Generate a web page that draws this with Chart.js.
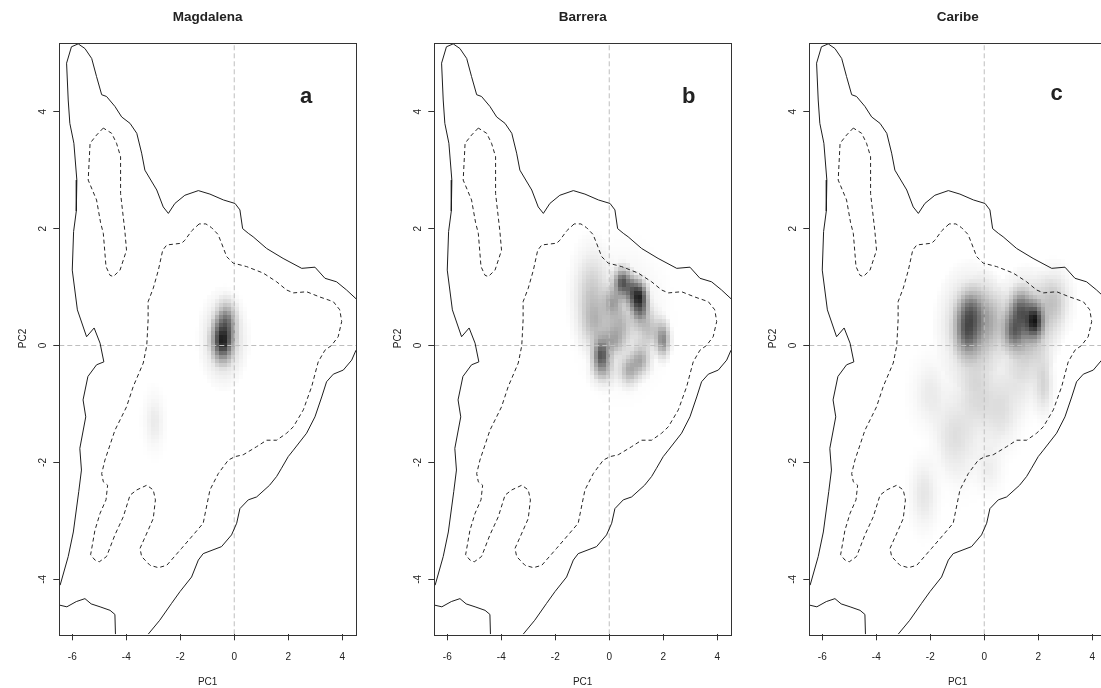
<!DOCTYPE html>
<html>
<head>
<meta charset="utf-8">
<script src="https://cdn.jsdelivr.net/npm/chart.js@4.4.1/dist/chart.umd.min.js"></script>
<style>
  html, body { margin: 0; padding: 0; background: #fff; overflow: hidden; }
  #wrap { position: relative; width: 1101px; height: 688px; overflow: hidden; }
  #wrap canvas { position: absolute; top: 0; }
</style>
</head>
<body>
<div id="wrap">
  <canvas id="magdalena" width="375" height="688" style="left:0px"></canvas>
  <canvas id="barrera" width="375" height="688" style="left:375px"></canvas>
  <canvas id="caribe" width="375" height="688" style="left:750px"></canvas>
</div>
<script>
// environmental space panels (PCA): background contours + occurrence density

const xRange = [-6.48, 4.51];
const yRange = [-4.94, 5.18];
const xTicks = [-6, -4, -2, 0, 2, 4];
const yTicks = [-4, -2, 0, 2, 4];
const panelTitles = ['Magdalena', 'Barrera', 'Caribe'];
const panelLetters = ['a', 'b', 'c'];

// solid contour (100% of background), split where it leaves the plot box
const outerUpper = [
  [4.51, 0.8], [4.16, 0.95], [3.79, 1.09], [3.36, 1.15], [2.99, 1.34], [2.5, 1.32],
  [1.81, 1.49], [1.2, 1.66], [0.7, 1.86], [0.52, 1.92], [0.31, 2.0], [0.21, 2.32],
  [0.03, 2.43], [-0.4, 2.49], [-0.9, 2.59], [-1.33, 2.65], [-1.83, 2.57], [-2.2, 2.43],
  [-2.44, 2.26], [-2.63, 2.37], [-2.87, 2.66], [-3.31, 3.0], [-3.43, 3.29], [-3.61, 3.63],
  [-3.86, 3.8], [-4.17, 3.91], [-4.42, 4.09], [-4.73, 4.26], [-4.91, 4.29], [-5.1, 4.6],
  [-5.28, 4.91], [-5.53, 5.08], [-5.78, 5.16], [-6.03, 5.11], [-6.21, 4.83], [-6.15, 4.2],
  [-6.09, 3.8], [-5.94, 3.46], [-5.83, 2.83], [-5.85, 2.3], [-5.95, 1.95], [-6.0, 1.29],
  [-5.81, 0.61], [-5.47, 0.15], [-5.19, 0.3], [-4.97, 0.04], [-4.83, -0.28], [-5.1, -0.33],
  [-5.42, -0.53], [-5.6, -0.93], [-5.5, -1.22], [-5.72, -1.76], [-5.66, -2.13], [-5.76, -2.5],
  [-5.96, -3.19], [-6.15, -3.61], [-6.45, -4.1]
];
const outerLower = [
  [4.51, -0.08], [4.35, -0.25], [4.04, -0.42], [3.67, -0.49], [3.42, -0.62], [3.24, -0.88],
  [2.99, -1.22], [2.68, -1.5], [2.19, -1.79], [2.0, -1.9], [1.75, -2.1], [1.57, -2.24],
  [1.31, -2.39], [0.83, -2.59], [0.52, -2.64], [0.21, -2.79], [0.09, -3.04], [-0.1, -3.24],
  [-0.47, -3.44], [-1.15, -3.56], [-1.33, -3.67], [-1.58, -3.96], [-2.01, -4.21], [-2.32, -4.41],
  [-2.76, -4.7], [-3.19, -4.94]
];
const outerCorner = [
  [-6.48, -4.44], [-6.2, -4.47], [-5.85, -4.38], [-5.53, -4.33], [-5.3, -4.42], [-4.97, -4.47],
  [-4.6, -4.53], [-4.42, -4.6], [-4.4, -4.94]
];

// dashed contours (inner level)
const innerLoop = [
  [-4.85, 3.72], [-5.1, 3.6], [-5.34, 3.46], [-5.41, 2.83], [-5.1, 2.49], [-4.95, 2.1],
  [-4.85, 1.92], [-4.75, 1.35], [-4.6, 1.2], [-4.48, 1.18], [-4.23, 1.29], [-3.99, 1.63],
  [-4.05, 1.95], [-4.21, 2.6], [-4.21, 3.23], [-4.36, 3.46], [-4.54, 3.63], [-4.85, 3.72]
];
const innerMain = [
  [-1.3, 2.08], [-1.58, 1.96], [-1.83, 1.8], [-1.95, 1.75], [-2.5, 1.72], [-2.65, 1.63],
  [-2.81, 1.29], [-3.0, 0.98], [-3.19, 0.75], [-3.19, 0.44], [-3.24, 0.0], [-3.37, -0.3],
  [-3.74, -0.7], [-3.99, -1.05], [-4.42, -1.45], [-4.79, -1.96], [-4.91, -2.19], [-4.85, -2.33],
  [-4.69, -2.39], [-4.75, -2.64], [-4.97, -2.87], [-5.16, -3.16], [-5.32, -3.58], [-5.16, -3.67],
  [-5.0, -3.7], [-4.73, -3.61], [-4.42, -3.24], [-4.11, -2.93], [-3.86, -2.56], [-3.61, -2.47],
  [-3.24, -2.39], [-3.0, -2.47], [-2.92, -2.64], [-3.0, -2.96], [-3.19, -3.16], [-3.49, -3.47],
  [-3.43, -3.61], [-3.12, -3.76], [-2.81, -3.8], [-2.5, -3.76], [-1.95, -3.47], [-1.52, -3.24],
  [-1.15, -3.04], [-1.05, -2.81], [-0.9, -2.47], [-0.59, -2.19], [-0.22, -1.96], [0.03, -1.9],
  [0.33, -1.87], [0.83, -1.73], [1.2, -1.62], [1.57, -1.62], [1.94, -1.5], [2.19, -1.39],
  [2.56, -1.1], [2.87, -0.7], [3.11, -0.28], [3.36, -0.08], [3.6, 0.0], [3.85, 0.15],
  [3.98, 0.41], [3.91, 0.61], [3.67, 0.75], [3.17, 0.83], [2.68, 0.92], [2.19, 0.9],
  [1.94, 0.95], [1.57, 1.09], [1.07, 1.24], [0.46, 1.35], [-0.04, 1.41], [-0.28, 1.52],
  [-0.47, 1.75], [-0.6, 1.9], [-0.85, 2.02], [-1.05, 2.08], [-1.3, 2.08]
];

// occurrence density kernels: [pc1, pc2, spread1, spread2, darkness]
const magdalenaDensity = [
  [-0.42, 0.1, 0.22, 0.2, 0.85],
  [-0.28, 0.42, 0.22, 0.2, 0.4],
  [-0.38, 0.12, 0.4, 0.36, 0.3],
  [-2.95, -1.3, 0.22, 0.28, 0.08]
];
const barreraDensity = [
  [1.1, 0.83, 0.2, 0.16, 0.85],
  [0.5, 1.08, 0.2, 0.15, 0.65],
  [0.85, 0.95, 0.2, 0.15, 0.45],
  [1.16, 0.61, 0.2, 0.16, 0.4],
  [0.15, 0.75, 0.22, 0.16, 0.3],
  [-0.65, 0.85, 0.38, 0.45, 0.2],
  [-0.5, 0.38, 0.3, 0.25, 0.18],
  [0.42, 0.38, 0.3, 0.2, 0.2],
  [2.0, 0.1, 0.16, 0.18, 0.45],
  [1.5, 0.27, 0.3, 0.2, 0.22],
  [-0.28, -0.16, 0.2, 0.18, 0.65],
  [0.17, 0.09, 0.25, 0.16, 0.28],
  [1.16, -0.25, 0.22, 0.16, 0.32],
  [0.75, -0.42, 0.22, 0.16, 0.3],
  [-0.2, -0.42, 0.28, 0.16, 0.2],
  [0.5, 0.45, 0.8, 0.6, 0.1]
];
const caribeDensity = [
  [1.85, 0.43, 0.2, 0.17, 0.9],
  [1.36, 0.6, 0.24, 0.2, 0.5],
  [1.11, 0.26, 0.24, 0.2, 0.5],
  [1.6, 0.38, 0.55, 0.4, 0.4],
  [-0.61, 0.26, 0.26, 0.25, 0.5],
  [-0.49, 0.56, 0.26, 0.22, 0.4],
  [-0.5, 0.35, 0.55, 0.45, 0.32],
  [0.12, 0.43, 0.4, 0.35, 0.25],
  [2.6, 0.77, 0.35, 0.3, 0.2],
  [2.22, -0.66, 0.2, 0.3, 0.15],
  [-0.24, -0.83, 0.5, 0.45, 0.15],
  [1.36, -0.54, 0.5, 0.35, 0.1],
  [-1.97, -0.83, 0.4, 0.35, 0.08],
  [0.68, -1.17, 0.4, 0.35, 0.1],
  [-1.2, -1.5, 0.4, 0.35, 0.08],
  [-2.22, -2.54, 0.3, 0.35, 0.1],
  [0.19, -2.08, 0.3, 0.25, 0.07],
  [-0.9, -1.8, 0.45, 0.4, 0.06]
];

const FONT = '"Liberation Sans", Arial, sans-serif';
const CELL = 4; // size of the density raster cells, like R's image()

function drawBlob(ctx, xs, ys, b) {
  const cx = xs.getPixelForValue(b[0]);
  const cy = ys.getPixelForValue(b[1]);
  const rx = Math.abs(xs.getPixelForValue(b[0] + b[2]) - cx) * 2.6;
  const ry = Math.abs(ys.getPixelForValue(b[1] + b[3]) - cy) * 2.6;
  ctx.save();
  ctx.translate(cx, cy);
  ctx.scale(rx, ry);
  const g = ctx.createRadialGradient(0, 0, 0, 0, 0, 1);
  for (let i = 0; i <= 12; i++) {
    const r = i / 12;
    const a = b[4] * Math.exp(-Math.pow(r * 2.6, 2) / 2);
    g.addColorStop(r, 'rgba(0,0,0,' + (i === 12 ? 0 : a).toFixed(4) + ')');
  }
  ctx.fillStyle = g;
  ctx.beginPath();
  ctx.arc(0, 0, 1, 0, Math.PI * 2);
  ctx.fill();
  ctx.restore();
}

const densityPlugin = {
  id: 'density',
  beforeDatasetsDraw(chart, args, opts) {
    const {ctx, chartArea: a, scales: {x, y}} = chart;
    const w = Math.ceil((a.right - a.left) / CELL);
    const h = Math.ceil((a.bottom - a.top) / CELL);
    const off = document.createElement('canvas');
    off.width = w;
    off.height = h;
    const octx = off.getContext('2d');
    octx.scale(1 / CELL, 1 / CELL);
    octx.translate(-a.left, -a.top);
    (opts.blobs || []).forEach(b => drawBlob(octx, x, y, b));
    ctx.save();
    ctx.beginPath();
    ctx.rect(a.left, a.top, a.right - a.left, a.bottom - a.top);
    ctx.clip();
    ctx.imageSmoothingEnabled = false;
    ctx.drawImage(off, a.left, a.top, w * CELL, h * CELL);
    ctx.restore();
  }
};

const framePlugin = {
  id: 'frame',
  afterDraw(chart, args, opts) {
    const {ctx, chartArea: a, scales: {x, y}} = chart;
    ctx.save();
    ctx.strokeStyle = '#333';
    ctx.lineWidth = 1;
    ctx.strokeRect(Math.round(a.left) + 0.5, Math.round(a.top) + 0.5,
      Math.round(a.right - a.left), Math.round(a.bottom - a.top));

    // R style y tick labels, parallel to the axis
    ctx.fillStyle = '#222';
    ctx.font = '10px ' + FONT;
    ctx.textAlign = 'center';
    ctx.textBaseline = 'middle';
    y.ticks.forEach(t => {
      ctx.save();
      ctx.translate(a.left - 16.5, y.getPixelForValue(t.value));
      ctx.rotate(-Math.PI / 2);
      ctx.fillText(String(t.value), 0, 0);
      ctx.restore();
    });

    ctx.font = 'bold 13.5px ' + FONT;
    ctx.fillText(opts.title, (a.left + a.right) / 2, 17);

    ctx.font = 'bold 22px ' + FONT;
    ctx.fillText(opts.letter, x.getPixelForValue(opts.spot[0]), y.getPixelForValue(opts.spot[1]));
    ctx.restore();
  }
};

function toPoints(arr) {
  return arr.map(p => ({x: p[0], y: p[1]}));
}

function buildDatasets() {
  const base = {showLine: true, pointRadius: 0, borderWidth: 1, fill: false, tension: 0};
  const solid = Object.assign({}, base, {borderColor: '#1e1e1e'});
  const dashed = Object.assign({}, base, {borderColor: '#262626', borderDash: [4, 3]});
  const ref = Object.assign({}, base, {borderColor: '#bebebe', borderDash: [5, 3]});
  return [
    Object.assign({label: 'outer upper', data: toPoints(outerUpper)}, solid),
    Object.assign({label: 'outer lower', data: toPoints(outerLower)}, solid),
    Object.assign({label: 'outer corner', data: toPoints(outerCorner)}, solid),
    Object.assign({label: 'inner loop', data: toPoints(innerLoop)}, dashed),
    Object.assign({label: 'inner main', data: toPoints(innerMain)}, dashed),
    Object.assign({label: 'pc1 = 0', data: [{x: 0, y: yRange[0]}, {x: 0, y: yRange[1]}]}, ref),
    Object.assign({label: 'pc2 = 0', data: [{x: xRange[0], y: 0}, {x: xRange[1], y: 0}]}, ref)
  ];
}

function makePanel(id, idx, blobs, spot) {
  const axisFont = {size: 10, family: FONT};
  const gridOpts = {drawOnChartArea: false, drawTicks: true, tickLength: 6, tickColor: '#333', color: '#333'};
  return new Chart(document.getElementById(id), {
    type: 'scatter',
    data: {datasets: buildDatasets()},
    options: {
      responsive: false,
      animation: false,
      events: [],
      layout: {padding: {top: 42.7, right: 19, left: 0, bottom: 0}},
      plugins: {
        legend: {display: false},
        tooltip: {enabled: false},
        density: {blobs: blobs},
        frame: {title: panelTitles[idx], letter: panelLetters[idx], spot: spot}
      },
      scales: {
        x: {
          type: 'linear',
          min: xRange[0],
          max: xRange[1],
          afterBuildTicks: s => { s.ticks = xTicks.map(v => ({value: v})); },
          afterFit: s => { s.height = 53.7; },
          grid: gridOpts,
          border: {display: false},
          ticks: {color: '#222', font: axisFont, padding: 11, maxRotation: 0, autoSkip: false},
          title: {display: true, text: 'PC1', color: '#222', font: axisFont, padding: {top: 0, bottom: 0}}
        },
        y: {
          type: 'linear',
          min: yRange[0],
          max: yRange[1],
          afterBuildTicks: s => { s.ticks = yTicks.map(v => ({value: v})); },
          afterFit: s => { s.width = 59.3; },
          grid: gridOpts,
          border: {display: false},
          ticks: {display: false},
          title: {display: true, text: 'PC2', color: '#222', font: axisFont, padding: {top: 17, bottom: 0}}
        }
      }
    },
    plugins: [densityPlugin, framePlugin]
  });
}

makePanel('magdalena', 0, magdalenaDensity, [2.66, 4.25]);
makePanel('barrera', 1, barreraDensity, [2.94, 4.25]);
makePanel('caribe', 2, caribeDensity, [2.68, 4.3]);
</script>
</body>
</html>
